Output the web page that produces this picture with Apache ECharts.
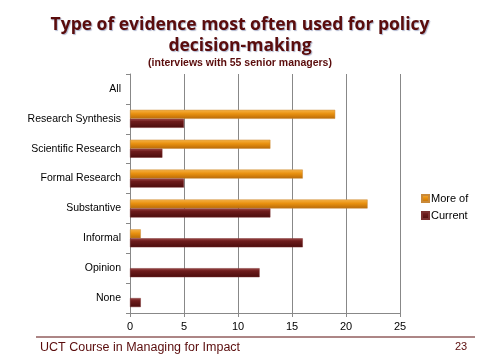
<!DOCTYPE html>
<html><head><meta charset="utf-8">
<script src="https://cdn.jsdelivr.net/npm/echarts@6/dist/echarts.min.js"></script>
<style>html,body{margin:0;padding:0;background:#fff}#c{width:480px;height:360px}</style>
</head><body><div id="c"></div>
<script>
const categories = ["All","Research Synthesis","Scientific Research","Formal Research","Substantive","Informal","Opinion","None"];
const moreOf = [0,19,13,16,22,1,0,0];
const current = [0,5,3,5,13,16,12,1];
const xTicks = [0,5,10,15,20,25];

const chart = echarts.init(document.getElementById('c'));
const orangeGrad = new echarts.graphic.LinearGradient(0,0,0,1,[
  {offset:0,color:'#f7b448'},{offset:0.45,color:'#e8900f'},{offset:1,color:'#b86a08'}]);
const redGrad = new echarts.graphic.LinearGradient(0,0,0,1,[
  {offset:0,color:'#9c4a4a'},{offset:0.3,color:'#6e1c1c'},{offset:1,color:'#4a0c0c'}]);
const nz = v => v === 0 ? null : v;
chart.setOption({
  animation:false,
  title:[{
    text:'Type of evidence most often used for policy\ndecision-making',
    left:'center', top:10,
    textStyle:{fontFamily:'Open Sans',fontWeight:'bold',fontSize:17.5,color:'#5a0c0c',lineHeight:21,
      textShadowColor:'rgba(120,130,170,0.6)',textShadowOffsetX:1,textShadowOffsetY:1,textShadowBlur:1}
  },{
    text:'(interviews with 55 senior managers)',
    left:'center', top:53,
    textStyle:{fontFamily:'Liberation Sans',fontWeight:'bold',fontSize:10.5,color:'#5a0c0c'}
  }],
  legend:{
    orient:'vertical', left:416, top:188, itemWidth:7, itemHeight:7, itemGap:6, icon:'rect',
    textStyle:{fontFamily:'Liberation Sans',fontSize:11,color:'#000',padding:[0,0,0,-3]},
    data:['More of','Current']
  },
  grid:{left:130,right:80,top:74,bottom:47},
  xAxis:{type:'value',min:0,max:25,interval:5,
    axisLine:{show:true,lineStyle:{color:'#888'}},
    axisTick:{show:true,length:4,lineStyle:{color:'#888'}},
    splitLine:{show:true,lineStyle:{color:'#888'}},
    axisLabel:{fontFamily:'Liberation Sans',fontSize:11,color:'#000',margin:8,
      formatter:v=>xTicks.includes(v)?String(v):''}},
  yAxis:{type:'category',data:categories,inverse:true,
    axisLine:{show:true,lineStyle:{color:'#888'}},
    axisTick:{show:true,length:4,lineStyle:{color:'#888'}},
    axisLabel:{fontFamily:'Liberation Sans',fontSize:10.5,color:'#000',margin:9}},
  series:[
    {name:'More of',type:'bar',data:moreOf.map(nz),barWidth:9,barGap:'0%',barCategoryGap:'38%',
     itemStyle:{color:orangeGrad,borderColor:'#c98a3a',borderWidth:0.5}},
    {name:'Current',type:'bar',data:current.map(nz),barWidth:9,barGap:'0%',
     itemStyle:{color:redGrad,borderColor:'#7a3030',borderWidth:0.5}}
  ],
  graphic:[
    {type:'line',shape:{x1:36,y1:337,x2:475,y2:337},style:{stroke:'#5a0c0c',lineWidth:1}},
    {type:'text',left:40,top:341,style:{text:'UCT Course in Managing for Impact',fontFamily:'Liberation Sans',fontSize:12.5,fill:'#5a0c0c'}},
    {type:'text',left:455,top:341,style:{text:'23',fontFamily:'Liberation Sans',fontSize:11,fill:'#5a0c0c'}}
  ]
});
</script></body></html>
